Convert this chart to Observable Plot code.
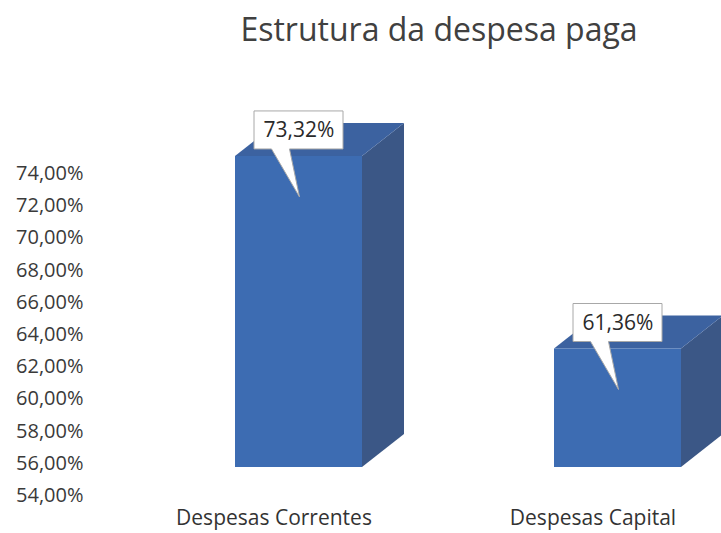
<!DOCTYPE html>
<html><head><meta charset="utf-8">
<script src="https://cdn.jsdelivr.net/npm/d3@7"></script>
<script src="https://cdn.jsdelivr.net/npm/@observablehq/plot@0.6"></script>
<style>
html,body{margin:0;padding:0;background:#fff;overflow:hidden;}
body{width:721px;height:533px;font-family:"Open Sans",sans-serif;}
#title{height:62px;position:relative;}
#title span{position:absolute;left:439px;top:13px;transform:translateX(-50%);font-size:32px;line-height:1;color:#404040;white-space:nowrap;}
#chart svg{overflow:visible;display:block;}
</style></head><body>
<div id="title"><span>Estrutura da despesa paga</span></div>
<div id="chart"></div>
<script>
const categories = ["Despesas Correntes", "Despesas Capital"];
const values = [73.32, 61.36];
const valueLabels = ["73,32%", "61,36%"];
const yTicks = [54, 56, 58, 60, 62, 64, 66, 68, 70, 72, 74];

const data = categories.map((c, i) => ({category: c, value: values[i], label: valueLabels[i]}));
const yMin = yTicks[0], yMax = yTicks[yTicks.length - 1];

const FRONT = "#3d6cb2", SIDE = "#3b5786", TOP = "#3c62a0";
const DX = 42, DY = -33;
const fmt = d => d.toFixed(2).replace(".", ",") + "%";

function bw(x) { return typeof x.bandwidth === "function" ? x.bandwidth() : x.bandwidth; }

// 3D side and top faces, positioned from Plot's own x/y scales
function faces(index, scales) {
  const {x, y} = scales;
  const w = bw(x);
  const g = d3.create("svg:g");
  for (const d of data) {
    const x0 = x(d.category), x1 = x0 + w;
    const yt = y(d.value), yb = y(yMin);
    g.append("path").attr("fill", SIDE)
      .attr("d", `M${x1},${yt}L${x1 + DX},${yt + DY}L${x1 + DX},${yb + DY}L${x1},${yb}Z`);
    g.append("path").attr("fill", TOP)
      .attr("d", `M${x0},${yt}L${x1},${yt}L${x1 + DX},${yt + DY}L${x0 + DX},${yt + DY}Z`);
  }
  return g.node();
}

// callout boxes with pointer
function callouts(index, scales) {
  const {x, y} = scales;
  const w = bw(x);
  const g = d3.create("svg:g");
  for (const d of data) {
    const cx = x(d.category) + w / 2;
    const yt = y(d.value);
    const L = cx - 44.5, R = cx + 44.5, T = yt - 45, B = yt - 7;
    g.append("path").attr("fill", "#fff").attr("stroke", "#a8a8a8").attr("stroke-width", 1)
      .attr("d", `M${L},${T}L${R},${T}L${R},${B}L${cx - 9},${B}L${cx + 1},${yt + 41}L${cx - 27},${B}L${L},${B}Z`);
  }
  return g.node();
}

const chart = Plot.plot({
  width: 721,
  height: 471,
  marginTop: 83,
  marginBottom: 66,
  marginLeft: 95,
  marginRight: 0,
  style: {fontFamily: "'Open Sans', sans-serif", color: "#3a3a3a", background: "transparent"},
  x: {type: "band", domain: categories, range: [235, 681], paddingInner: 0.602, paddingOuter: 0, label: null},
  y: {domain: [yMin, yMax], label: null},
  marks: [
    Plot.axisY(yTicks, {anchor: "left", tickSize: 0, tickPadding: 12, dy: 28, tickFormat: fmt, fontSize: 20, label: null, fill: "#3a3a3a"}),
    Plot.axisX({anchor: "bottom", tickSize: 0, tickPadding: 43, dx: -25, fontSize: 21, label: null, fill: "#333"}),
    faces,
    Plot.barY(data, {x: "category", y1: () => yMin, y2: "value", fill: FRONT, inset: 0}),
    callouts,
    Plot.text(data, {x: "category", y: "value", text: "label", dy: -26, fontSize: 21, fill: "#2a2a2a"})
  ]
});
document.getElementById("chart").appendChild(chart);
</script>
</body></html>
